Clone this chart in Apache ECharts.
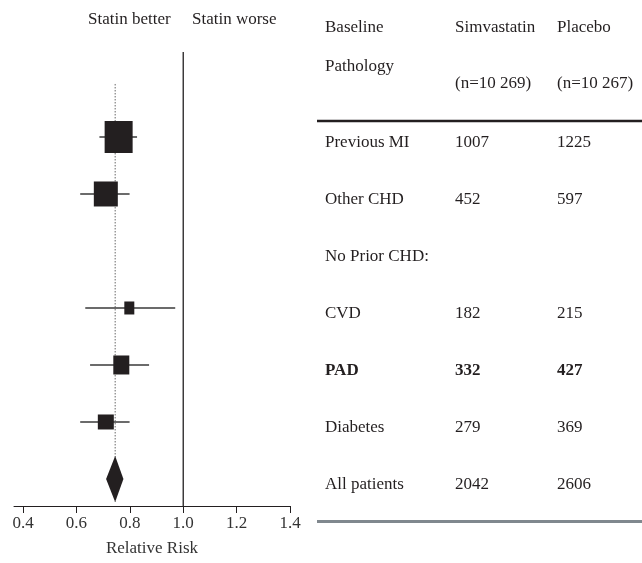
<!DOCTYPE html>
<html>
<head>
<meta charset="utf-8">
<script src="https://cdn.jsdelivr.net/npm/echarts@6/dist/echarts.min.js"></script>
<style>
html,body{margin:0;padding:0;background:#fff;}
#chart{width:642px;height:563px;}
</style>
</head>
<body>
<div id="chart"></div>
<script>
// ---- Data ----
const tableRows = ['Previous MI', 'Other CHD', 'No Prior CHD:', 'CVD', 'PAD', 'Diabetes', 'All patients'];
const simvastatinEvents = ['1007', '452', '', '182', '332', '279', '2042'];
const placeboEvents = ['1225', '597', '', '215', '427', '369', '2606'];
const boldRow = 'PAD';

const groupRowIndex = [0, 1, 3, 4, 5];
const groupRR = [0.758, 0.710, 0.798, 0.768, 0.710];
const groupLow = [0.686, 0.614, 0.633, 0.651, 0.614];
const groupHigh = [0.827, 0.799, 0.970, 0.872, 0.799];
const groupWeight = [28, 24, 10, 16, 16];     // box width (weight)
const groupWeightH = [32, 25, 13, 19, 15];    // box height

const overallRow = 6;
const overallRR = 0.745;
const overallLow = 0.711;
const overallHigh = 0.776;

const xTicks = [0.4, 0.6, 0.8, 1.0, 1.2, 1.4];

// ---- Chart ----
const FONT = '"Liberation Serif", "Times New Roman", serif';
const TXT = '#231f20';
const chart = echarts.init(document.getElementById('chart'));

const boxData = groupRR.map((v, i) => [v, groupRowIndex[i], groupLow[i], groupHigh[i], groupWeight[i], groupWeightH[i]]);

const graphics = [];
function addText(text, x, y, bold) {
  graphics.push({
    type: 'text', x: x, y: y, silent: true,
    style: { text: text, font: (bold ? 'bold ' : '') + '17px ' + FONT, fill: TXT, align: 'left', verticalAlign: 'middle' }
  });
}
addText('Statin better', 88, 20);
addText('Statin worse', 192, 20);
addText('Baseline', 325, 27.5);
addText('Pathology', 325, 67);
addText('Simvastatin', 455, 27.5);
addText('Placebo', 557, 27.5);
addText('(n=10 269)', 455, 83.5);
addText('(n=10 267)', 557, 83.5);
tableRows.forEach((r, i) => {
  const y = 142.5 + i * 57;
  const b = r === boldRow;
  addText(r, 325, y, b);
  if (simvastatinEvents[i]) addText(simvastatinEvents[i], 455, y, b);
  if (placeboEvents[i]) addText(placeboEvents[i], 557, y, b);
});
graphics.push({ type: 'line', silent: true, shape: { x1: 317, y1: 121, x2: 642, y2: 121 }, style: { stroke: TXT, lineWidth: 2.5 } });
graphics.push({ type: 'line', silent: true, shape: { x1: 317, y1: 521.5, x2: 642, y2: 521.5 }, style: { stroke: '#80888e', lineWidth: 3 } });

chart.setOption({
  animation: false,
  backgroundColor: '#fff',
  grid: { left: 14, right: 352, top: 52, bottom: 57, containLabel: false, outerBoundsMode: 'none' },
  xAxis: {
    type: 'value', min: 0.366, max: 1.4,
    axisLine: { show: true, onZero: false, lineStyle: { color: TXT, width: 1 } },
    axisTick: { show: true, inside: false, length: 7, customValues: xTicks, lineStyle: { color: TXT } },
    axisLabel: { customValues: xTicks, margin: 9, formatter: v => v.toFixed(1), fontFamily: FONT, fontSize: 17, color: '#333' },
    splitLine: { show: false },
    name: 'Relative Risk', nameLocation: 'middle', nameGap: 34,
    nameTextStyle: { fontFamily: FONT, fontSize: 17, color: '#333' }
  },
  yAxis: { type: 'value', inverse: true, min: -1.491, max: 6.474, show: false },
  graphic: graphics,
  series: [
    {
      type: 'line', data: [[1.0, -1.491], [1.0, 6.474]], symbol: 'none',
      lineStyle: { color: TXT, width: 1.3 }, silent: true, z: 1
    },
    {
      type: 'line', data: [[overallRR, -0.93], [overallRR, 6.4]], symbol: 'none',
      lineStyle: { color: '#666', width: 1, type: [1.5, 1.5] }, silent: true, z: 1
    },
    {
      type: 'custom', data: boxData, z: 3,
      renderItem: function (params, api) {
        const c = api.coord([api.value(0), api.value(1)]);
        const l = api.coord([api.value(2), api.value(1)]);
        const h = api.coord([api.value(3), api.value(1)]);
        const w = api.value(4), ht = api.value(5);
        return {
          type: 'group', children: [
            { type: 'line', shape: { x1: l[0], y1: c[1], x2: h[0], y2: c[1] }, style: { stroke: '#3a3a3a', lineWidth: 1.5 } },
            { type: 'rect', shape: { x: c[0] - w / 2, y: c[1] - ht / 2, width: w, height: ht }, style: { fill: TXT } }
          ]
        };
      }
    },
    {
      type: 'custom', data: [[overallRR, overallRow, overallLow, overallHigh]], z: 3,
      renderItem: function (params, api) {
        const c = api.coord([api.value(0), api.value(1)]);
        const l = api.coord([api.value(2), api.value(1)]);
        const h = api.coord([api.value(3), api.value(1)]);
        const half = 23;
        return {
          type: 'polygon',
          shape: { points: [[l[0], c[1]], [c[0], c[1] - half], [h[0], c[1]], [c[0], c[1] + half]] },
          style: { fill: TXT }
        };
      }
    }
  ]
});
</script>
</body>
</html>
